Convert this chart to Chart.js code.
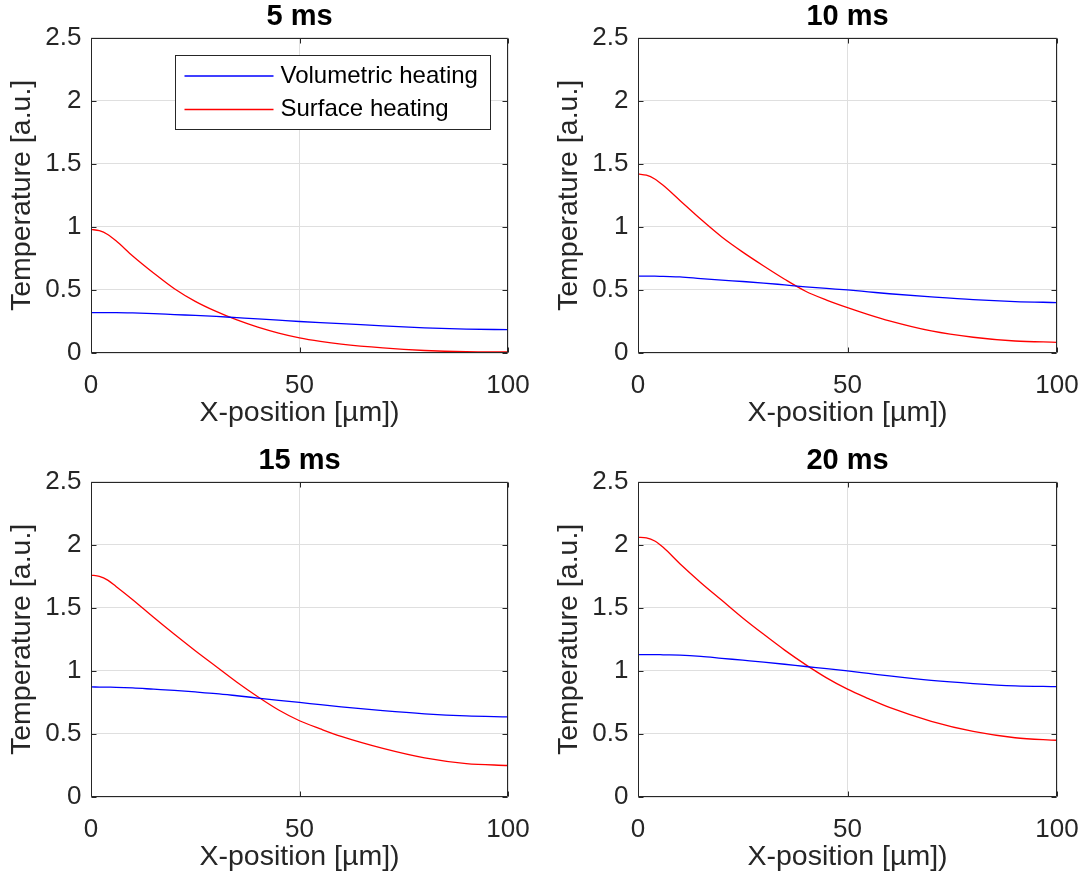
<!DOCTYPE html>
<html><head><meta charset="utf-8">
<script src="https://cdn.jsdelivr.net/npm/chart.js@4/dist/chart.umd.min.js"></script>
<style>
html,body{margin:0;padding:0;background:#fff;}
body{width:1084px;height:884px;position:relative;overflow:hidden;}
canvas{position:absolute;}
</style></head><body>
<canvas id="c0" width="540" height="440" style="left:0;top:0"></canvas>
<canvas id="c1" width="537" height="440" style="left:547px;top:0"></canvas>
<canvas id="c2" width="540" height="440" style="left:0;top:444px"></canvas>
<canvas id="c3" width="537" height="440" style="left:547px;top:444px"></canvas>
<script>
// ---- data ----
const panelTitles = ['5 ms', '10 ms', '15 ms', '20 ms'];
const seriesNames = ['Volumetric heating', 'Surface heating'];
const xPositions = [0, 2, 4, 6, 10, 15, 20, 25, 30, 35, 40, 45, 50, 55, 60, 70, 80, 90, 100];
const xTicks = [0, 50, 100];
const yTicks = [0, 0.5, 1, 1.5, 2, 2.5];
const xTitle = 'X-position [µm])';
const yTitle = 'Temperature [a.u.]';

const vol5  = [0.32, 0.32, 0.32, 0.32, 0.318, 0.313, 0.305, 0.298, 0.29, 0.28, 0.27, 0.26, 0.25, 0.241, 0.233, 0.215, 0.200, 0.190, 0.185];
const surf5 = [0.98, 0.97, 0.94, 0.89, 0.77, 0.635, 0.51, 0.41, 0.33, 0.262, 0.205, 0.158, 0.12, 0.092, 0.07, 0.04, 0.02, 0.01, 0.008];

const vol10  = [0.61, 0.61, 0.61, 0.607, 0.603, 0.59, 0.578, 0.567, 0.555, 0.54, 0.525, 0.512, 0.50, 0.485, 0.47, 0.445, 0.423, 0.408, 0.40];
const surf10 = [1.42, 1.41, 1.38, 1.33, 1.21, 1.06, 0.92, 0.80, 0.69, 0.585, 0.49, 0.42, 0.36, 0.305, 0.255, 0.175, 0.125, 0.095, 0.085];

const vol15  = [0.873, 0.872, 0.871, 0.87, 0.865, 0.855, 0.845, 0.833, 0.82, 0.803, 0.785, 0.767, 0.75, 0.732, 0.715, 0.685, 0.66, 0.643, 0.635];
const surf15 = [1.76, 1.75, 1.72, 1.67, 1.565, 1.425, 1.29, 1.16, 1.035, 0.91, 0.795, 0.69, 0.605, 0.54, 0.48, 0.385, 0.31, 0.265, 0.25];

const vol20  = [1.13, 1.13, 1.13, 1.128, 1.125, 1.115, 1.10, 1.085, 1.07, 1.053, 1.035, 1.018, 1.0, 0.98, 0.96, 0.925, 0.90, 0.882, 0.875];
const surf20 = [2.06, 2.055, 2.03, 1.98, 1.85, 1.70, 1.56, 1.42, 1.29, 1.165, 1.05, 0.945, 0.855, 0.78, 0.71, 0.60, 0.52, 0.47, 0.45];

const panelVol = [vol5, vol10, vol15, vol20];
const panelSurf = [surf5, surf10, surf15, surf20];

// ---- styling ----
const FONT = "'Liberation Sans', Arial, Helvetica, sans-serif";
const AXIS_COLOR = '#262626';
const GRID_COLOR = '#dfdfdf';
const COLORS = ['#0000ff', '#ff0000'];

const framePlugin = {
  id: 'frame',
  afterDatasetsDraw(chart) {
    const {ctx, chartArea: a, scales} = chart;
    ctx.save();
    ctx.strokeStyle = AXIS_COLOR;
    ctx.lineWidth = 1;
    const L = Math.round(a.left) + 0.5, R = Math.round(a.right) - 0.5;
    const T = Math.round(a.top) + 0.5, B = Math.round(a.bottom) - 0.5;
    ctx.beginPath();
    ctx.rect(L, T, R - L, B - T);
    const tl = 5;
    xTicks.forEach(v => {
      const p = Math.round(scales.x.getPixelForValue(v)) + 0.5;
      ctx.moveTo(p, B); ctx.lineTo(p, B - tl);
      ctx.moveTo(p, T); ctx.lineTo(p, T + tl);
    });
    yTicks.forEach(v => {
      const p = Math.round(scales.y.getPixelForValue(v)) + 0.5;
      ctx.moveTo(L, p); ctx.lineTo(L + tl, p);
      ctx.moveTo(R, p); ctx.lineTo(R - tl, p);
    });
    ctx.stroke();
    ctx.restore();
  }
};

const legendPlugin = {
  id: 'innerLegend',
  afterDraw(chart) {
    if (!chart.options.plugins.innerLegend || !chart.options.plugins.innerLegend.show) return;
    const {ctx, chartArea: a} = chart;
    const left = Math.round(a.left + 84) + 0.5, top = Math.round(a.top + 17) + 0.5;
    const w = 315, h = 74;
    ctx.save();
    ctx.fillStyle = '#ffffff';
    ctx.fillRect(left, top, w, h);
    ctx.strokeStyle = AXIS_COLOR;
    ctx.lineWidth = 1;
    ctx.strokeRect(left, top, w, h);
    const rows = [top + 20.5, top + 54];
    chart.data.datasets.forEach((ds, i) => {
      ctx.strokeStyle = ds.borderColor;
      ctx.lineWidth = 1.3;
      ctx.beginPath();
      ctx.moveTo(left + 9, rows[i]);
      ctx.lineTo(left + 98, rows[i]);
      ctx.stroke();
      ctx.fillStyle = '#000000';
      ctx.font = '24px ' + FONT;
      ctx.textBaseline = 'middle';
      ctx.textAlign = 'left';
      ctx.fillText(ds.label, left + 105, rows[i]);
    });
    ctx.restore();
  }
};

function makeChart(idx, padRight) {
  const ctx = document.getElementById('c' + idx);
  return new Chart(ctx, {
    type: 'line',
    data: {
      datasets: [
        { label: seriesNames[0], data: xPositions.map((x, i) => ({x, y: panelVol[idx][i]})),
          borderColor: COLORS[0], backgroundColor: COLORS[0] },
        { label: seriesNames[1], data: xPositions.map((x, i) => ({x, y: panelSurf[idx][i]})),
          borderColor: COLORS[1], backgroundColor: COLORS[1] }
      ]
    },
    options: {
      responsive: false,
      animation: false,
      devicePixelRatio: 1,
      layout: { padding: { left: 0, right: padRight, top: 0, bottom: 0 } },
      elements: {
        point: { radius: 0, hoverRadius: 0 },
        line: { borderWidth: 1.3, cubicInterpolationMode: 'monotone', fill: false }
      },
      plugins: {
        legend: { display: false },
        tooltip: { enabled: false },
        innerLegend: { show: idx === 0 },
        title: {
          display: true, fullSize: false, text: panelTitles[idx], color: '#000000',
          font: { family: FONT, size: 29, weight: 'bold', lineHeight: 1.2 },
          padding: { top: 0, bottom: 3 }
        }
      },
      scales: {
        x: {
          type: 'linear', min: 0, max: 100,
          afterBuildTicks: s => { s.ticks = xTicks.map(v => ({value: v})); },
          afterFit: s => { s.height = 87; s.paddingLeft = 0; s.paddingRight = 0; },
          grid: { color: GRID_COLOR, lineWidth: 1, drawTicks: false },
          border: { display: false },
          ticks: { color: AXIS_COLOR, padding: 17, maxRotation: 0, autoSkip: false,
                   font: { family: FONT, size: 26, lineHeight: 1.2 },
                   callback: v => String(v) },
          title: { display: true, text: xTitle, color: AXIS_COLOR,
                   font: { family: FONT, size: 28.5, lineHeight: 1.2 },
                   padding: { top: 0, bottom: 9.5 } }
        },
        y: {
          type: 'linear', min: 0, max: 2.5,
          afterBuildTicks: s => { s.ticks = yTicks.map(v => ({value: v})); },
          afterFit: s => { s.width = 91; s.paddingTop = 0; s.paddingBottom = 0; },
          grid: { color: GRID_COLOR, lineWidth: 1, drawTicks: false },
          border: { display: false },
          ticks: { color: AXIS_COLOR, padding: 9.5, autoSkip: false,
                   font: { family: FONT, size: 26, lineHeight: 1.2 },
                   callback: v => String(v) },
          title: { display: true, text: yTitle, color: AXIS_COLOR,
                   font: { family: FONT, size: 28.5, lineHeight: 1.2 },
                   padding: { top: 5, bottom: 0 } }
        }
      }
    },
    plugins: [framePlugin, legendPlugin]
  });
}

makeChart(0, 32);
makeChart(1, 27);
makeChart(2, 32);
makeChart(3, 27);
</script>
</body></html>
